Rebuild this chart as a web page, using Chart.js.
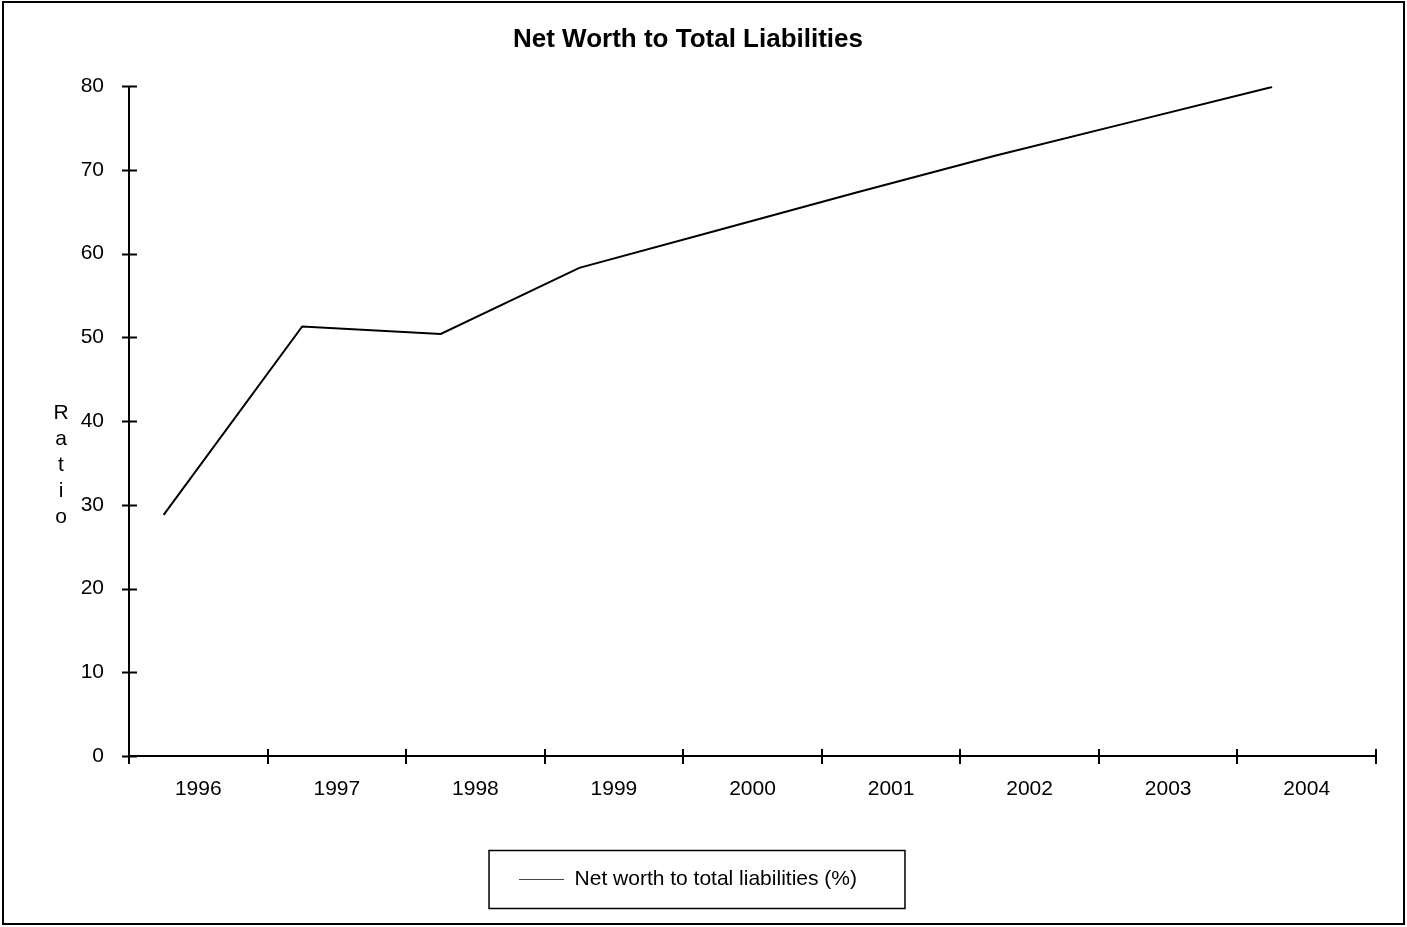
<!DOCTYPE html>
<html>
<head>
<meta charset="utf-8">
<title>Net Worth to Total Liabilities</title>
<script src="https://cdn.jsdelivr.net/npm/chart.js@4.4.1/dist/chart.umd.min.js"></script>
<style>
  html, body { margin: 0; padding: 0; background: #fff; }
  #wrap { width: 1407px; height: 927px; position: relative; }
</style>
</head>
<body>
<div id="wrap"><canvas id="grafico"></canvas></div>
<script>
// DATOS

const years = ['1996', '1997', '1998', '1999', '2000', '2001', '2002', '2003', '2004'];
const ratio = [28.8, 51.3, 50.4, 58.3, 62.8, 67.3, 71.7, 75.8, 79.9];
const yTicks = [0, 10, 20, 30, 40, 50, 60, 70, 80];
const seriesName = 'Net worth to total liabilities (%)';
const axisTitle = 'Ratio';

// each year sits a quarter into its band, labels in the middle of the band
const points = years.map(function (y, i) {
    return { x: i + 0.25, y: ratio[i] };
});

const FONT = '"Liberation Sans", Arial, sans-serif';

// marcas que cruzan los ejes, borde exterior, titulo vertical y caja de la leyenda
const extras = {
    id: 'extras',
    afterDraw: function (chart) {
        const ctx = chart.ctx;
        const xs = chart.scales.x;
        const ys = chart.scales.y;
        const area = chart.chartArea;
        ctx.save();
        ctx.strokeStyle = '#000';
        ctx.lineWidth = 2;

        // ejes
        ctx.beginPath();
        ctx.moveTo(area.left, area.top);
        ctx.lineTo(area.left, area.bottom);
        ctx.lineTo(area.right, area.bottom);
        ctx.stroke();

        // ticks
        yTicks.forEach(function (v) {
            const py = Math.round(ys.getPixelForValue(v)) + 0.5;
            ctx.beginPath();
            ctx.moveTo(area.left - 7, py);
            ctx.lineTo(area.left + 8, py);
            ctx.stroke();
        });
        for (let i = 0; i <= years.length; i++) {
            const px = Math.round(xs.getPixelForValue(i));
            ctx.beginPath();
            ctx.moveTo(px, area.bottom - 7);
            ctx.lineTo(px, area.bottom + 8);
            ctx.stroke();
        }

        // titulo del eje, letra a letra
        ctx.fillStyle = '#000';
        ctx.font = '21px ' + FONT;
        ctx.textAlign = 'center';
        ctx.textBaseline = 'middle';
        axisTitle.split('').forEach(function (ch, i) {
            ctx.fillText(ch, 61, 413 + i * 26);
        });

        // caja de la leyenda
        const hb = chart.legend.legendHitBoxes[0];
        if (hb) {
            const cy = hb.top + hb.height / 2;
            ctx.lineWidth = 1.5;
            ctx.strokeRect(hb.left - 30, cy - 29, hb.width + 30 + 48, 58);
        }

        // borde exterior
        ctx.lineWidth = 2;
        ctx.strokeRect(3, 2, 1401, 922);
        ctx.restore();
    }
};

new Chart(document.getElementById('grafico'), {
    type: 'line',
    data: {
        datasets: [{
            label: seriesName,
            data: points,
            borderColor: '#000',
            backgroundColor: '#000',
            borderWidth: 2,
            pointRadius: 0,
            tension: 0
        }]
    },
    options: {
        responsive: true,
        maintainAspectRatio: false,
        animation: false,
        layout: {
            padding: { left: 0, right: 31, top: 0, bottom: 27 }
        },
        plugins: {
            title: {
                display: true,
                text: 'Net Worth to Total Liabilities',
                color: '#000',
                font: { family: FONT, size: 26, weight: 'bold' },
                padding: { top: 24, bottom: 31 }
            },
            legend: {
                display: true,
                position: 'bottom',
                labels: {
                    color: '#000',
                    font: { family: FONT, size: 21 },
                    usePointStyle: true,
                    pointStyle: 'line',
                    pointStyleWidth: 45,
                    boxWidth: 30,
                    padding: 10,
                    generateLabels: function (chart) {
                        return [{
                            text: seriesName,
                            strokeStyle: '#444',
                            fillStyle: '#444',
                            lineWidth: 1,
                            pointStyle: 'line',
                            datasetIndex: 0
                        }];
                    }
                }
            },
            tooltip: { enabled: false }
        },
        scales: {
            x: {
                type: 'linear',
                min: 0,
                max: years.length,
                border: { display: false },
                grid: { display: false, drawTicks: false },
                afterBuildTicks: function (scale) {
                    scale.ticks = years.map(function (y, i) { return { value: i + 0.5 }; });
                },
                afterFit: function (scale) { scale.height = 103; },
                ticks: {
                    autoSkip: false,
                    maxRotation: 0,
                    padding: 21,
                    color: '#000',
                    font: { family: FONT, size: 21 },
                    callback: function (value) {
                        return years[Math.floor(value)];
                    }
                }
            },
            y: {
                min: 0,
                max: 80,
                border: { display: false },
                grid: { display: false, drawTicks: false },
                afterBuildTicks: function (scale) {
                    scale.ticks = yTicks.map(function (v) { return { value: v }; });
                },
                afterFit: function (scale) { scale.width = 129; },
                ticks: {
                    padding: 25,
                    color: '#000',
                    font: { family: FONT, size: 21 }
                }
            }
        }
    },
    plugins: [extras]
});
</script>
</body>
</html>
